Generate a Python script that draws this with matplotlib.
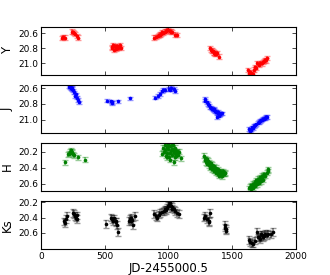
import numpy as np
import matplotlib
matplotlib.use("Agg")
import matplotlib.pyplot as plt

# ---- data -----------------------------------------------------------
y_jd = [169, 177, 185,
        247, 255, 260, 268, 281, 292,
        555, 560, 565, 572, 580, 585, 590, 598, 605, 610, 618, 625,
        890, 905, 917, 925, 937, 945, 950, 960, 969, 980, 990, 1000, 1010, 1020, 1029, 1055, 1068,
        1328, 1335, 1341, 1348, 1354, 1360, 1367, 1374, 1380, 1393,
        1620, 1630, 1640, 1650, 1659, 1670, 1680, 1690, 1698, 1710, 1719, 1730, 1740, 1750, 1758, 1768, 1776]
y_mag = [20.67, 20.655, 20.66,
         20.58, 20.59, 20.60, 20.61, 20.636, 20.66,
         20.78, 20.80, 20.76, 20.82, 20.77, 20.81, 20.79, 20.77, 20.80, 20.78, 20.76, 20.80,
         20.66, 20.65, 20.64, 20.63, 20.62, 20.61, 20.59, 20.60, 20.58, 20.57, 20.555, 20.56, 20.57, 20.58, 20.59, 20.62, 20.63,
         20.80, 20.82, 20.83, 20.84, 20.855, 20.86, 20.87, 20.88, 20.86, 20.91,
         21.09, 21.12, 21.11, 21.13, 21.14, 21.08, 21.045, 21.06, 21.0, 21.02, 20.99, 21.0, 20.98, 20.97, 20.955, 20.96, 20.93]
y_err = 0.028

j_jd = [221, 228, 234, 240, 247, 255, 260, 268, 275, 286, 294, 299,
        521, 547, 555, 560, 604,
        695,
        898, 920, 937, 950, 958, 975, 1003, 1010, 1021, 1042, 1049,
        1284, 1290, 1302, 1310, 1318, 1328, 1335, 1342, 1350, 1354, 1360, 1368, 1375, 1380, 1385,
        1392, 1400, 1406, 1412, 1419, 1380, 1395,
        1630, 1640, 1645, 1654, 1662, 1670, 1680, 1690, 1700, 1706, 1715, 1724, 1732, 1740, 1750, 1758, 1765, 1771]
j_mag = [20.58, 20.59, 20.60, 20.60, 20.61, 20.63, 20.655, 20.70, 20.68, 20.72, 20.75, 20.78,
         20.76, 20.77, 20.78, 20.79, 20.77,
         20.73,
         20.72, 20.70, 20.675, 20.64, 20.625, 20.62, 20.61, 20.62, 20.60, 20.61, 20.635,
         20.74, 20.76, 20.78, 20.80, 20.82, 20.845, 20.85, 20.86, 20.87, 20.865, 20.88, 20.89, 20.90, 20.91, 20.90,
         20.92, 20.93, 20.93, 20.92, 20.92, 20.97, 20.95,
         21.12, 21.14, 21.13, 21.10, 21.11, 21.08, 21.075, 21.06, 21.04, 21.03, 21.02, 21.01, 21.0, 20.99, 20.99, 20.98, 20.97, 20.97]
j_err = 0.022

h_jd = [187, 215, 221, 228, 234, 240, 247, 255, 260, 292, 346,
        950, 960, 965, 970, 975, 980, 985, 990, 995, 1000, 1005, 1010, 1015, 1020, 1025, 1030,
        1035, 1040, 1042, 1045, 1050, 1055, 1060, 1065, 1070, 1075, 1080, 1095, 990, 1010, 1030, 1050,
        1276, 1285, 1290, 1295, 1300, 1305, 1310, 1315, 1320, 1325, 1330, 1335, 1340, 1345, 1350, 1355, 1360,
        1365, 1370, 1375, 1380, 1385, 1390, 1395, 1400, 1405, 1410, 1415, 1420, 1425, 1430, 1435, 1440, 1445,
        1630, 1640, 1645, 1650, 1655, 1660, 1665, 1670, 1675, 1680, 1685, 1690, 1695, 1700, 1705,
        1710, 1715, 1720, 1725, 1730, 1735, 1740, 1745, 1750, 1760, 1770, 1780, 1784]
h_mag = [20.33, 20.23, 20.225, 20.20, 20.18, 20.21, 20.20, 20.23, 20.245, 20.27, 20.30,
         20.225, 20.15, 20.20, 20.12, 20.18, 20.25, 20.14, 20.22, 20.10, 20.17, 20.26, 20.13, 20.21, 20.19, 20.16, 20.24,
         20.12, 20.20, 20.33, 20.18, 20.22, 20.15, 20.25, 20.19, 20.21, 20.24, 20.20, 20.28, 20.27, 20.30, 20.11, 20.27,
         20.25, 20.30, 20.28, 20.33, 20.29, 20.35, 20.31, 20.37, 20.33, 20.40, 20.34, 20.38, 20.42, 20.36, 20.41, 20.44, 20.38,
         20.43, 20.46, 20.40, 20.45, 20.48, 20.42, 20.47, 20.50, 20.44, 20.49, 20.45, 20.51, 20.47, 20.44, 20.48, 20.46, 20.47,
         20.66, 20.64, 20.62, 20.67, 20.63, 20.60, 20.65, 20.61, 20.58, 20.63, 20.59, 20.56, 20.61, 20.57, 20.54,
         20.59, 20.55, 20.52, 20.57, 20.53, 20.50, 20.55, 20.51, 20.48, 20.50, 20.46, 20.44, 20.42]
h_err = 0.03

k_jd = [182, 190, 195, 203, 255, 260, 265, 273, 280, 286,
        508, 552, 560, 568, 575, 586, 592, 599, 604,
        690, 695, 703, 710, 718, 724, 734,
        885, 900, 911, 925, 937, 950, 963, 975, 990, 1003, 1010, 1016, 1025, 1042, 1055, 1068, 1081, 1000, 980, 1030,
        1281, 1290, 1302, 1315, 1320, 1328,
        1440, 1445, 1448, 1453,
        1628, 1640, 1654, 1665, 1680, 1693, 1700, 1706, 1715, 1725, 1732, 1740, 1750, 1758, 1770, 1784, 1800, 1823]
k_mag = [20.45, 20.47, 20.42, 20.38, 20.34, 20.355, 20.38, 20.40, 20.37, 20.42,
         20.48, 20.40, 20.42, 20.44, 20.41, 20.46, 20.45, 20.50, 20.59,
         20.44, 20.42, 20.40, 20.45, 20.43, 20.50, 20.38,
         20.355, 20.38, 20.40, 20.36, 20.335, 20.32, 20.31, 20.29, 20.27, 20.23, 20.21, 20.25, 20.28, 20.29, 20.31, 20.335, 20.355, 20.24, 20.30, 20.26,
         20.40, 20.38, 20.42, 20.46, 20.44, 20.335,
         20.50, 20.53, 20.57, 20.545,
         20.69, 20.72, 20.735, 20.74, 20.70, 20.59, 20.66, 20.65, 20.68, 20.62, 20.63, 20.66, 20.64, 20.61, 20.63, 20.61, 20.62, 20.59]
k_err = 0.05

bands = ["Y", "J", "H", "Ks"]
colors = ["red", "blue", "green", "black"]
ylims = [(21.15, 20.52), (21.17, 20.56), (20.69, 20.09), (20.81, 20.18)]
yticks = [[20.6, 20.8, 21.0], [20.6, 20.8, 21.0], [20.2, 20.4, 20.6], [20.2, 20.4, 20.6]]
xticks = [0, 500, 1000, 1500, 2000]

# ---- plot -----------------------------------------------------------
fig = plt.figure(figsize=(3.3, 2.75), dpi=100)
fig.subplots_adjust(left=0.124, right=0.897, top=0.902, bottom=0.095, hspace=0.21)
axes = fig.subplots(4, 1, sharex=True)

data = [(y_jd, y_mag, y_err), (j_jd, j_mag, j_err), (h_jd, h_mag, h_err), (k_jd, k_mag, k_err)]
for ax, (jd, mag, err), band, c, yl, yt in zip(axes, data, bands, colors, ylims, yticks):
    ax.errorbar(jd, mag, yerr=err, fmt='none', ecolor=c, alpha=0.4,
                elinewidth=1.3, capsize=2, capthick=1.0)
    ax.plot(jd, mag, 'o', color=c, ms=2.6, mew=0)
    ax.set_xlim(0, 2000)
    ax.set_ylim(*yl)
    ax.set_yticks(yt)
    ax.set_yticklabels([f"{v:.1f}" for v in yt])
    ax.set_xticks(xticks)
    ax.tick_params(direction='in', top=True, right=True, length=3, width=0.5,
                   labelsize=6.5, pad=2)
    ax.set_ylabel(band, fontsize=8.5, labelpad=3)
    for s in ax.spines.values():
        s.set_linewidth(0.8)

axes[-1].set_xlabel("JD-2455000.5", fontsize=8.5, labelpad=1)
fig.savefig("out.png", dpi=100)
